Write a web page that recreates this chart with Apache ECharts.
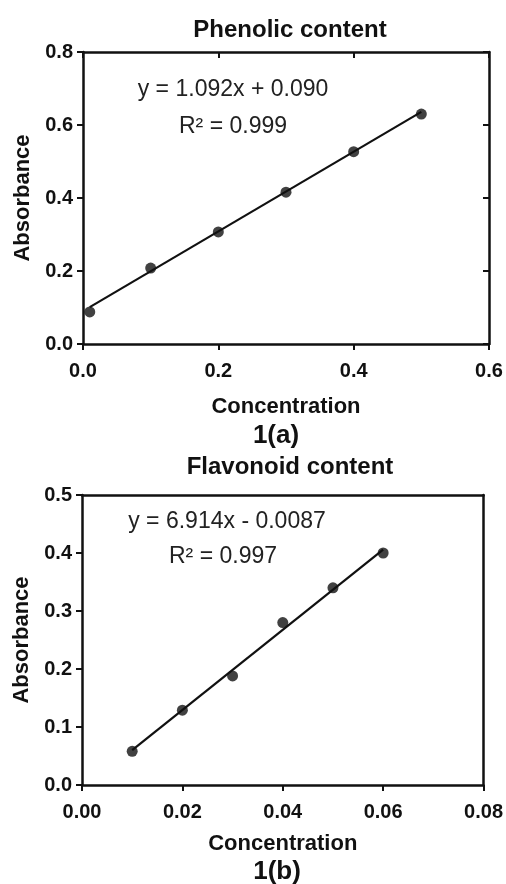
<!DOCTYPE html>
<html>
<head>
<meta charset="utf-8">
<title>Calibration curves</title>
<script src="https://cdn.jsdelivr.net/npm/echarts@6/dist/echarts.min.js"></script>
<style>
	html, body {
		margin: 0;
		padding: 0;
		background: #ffffff;
	}
	#main {
		width: 506px;
		height: 884px;
	}
</style>
</head>
<body>
<div id="main"></div>
<script>
	// 1(a) phenolic content
	var concA = [0.01, 0.1, 0.2, 0.3, 0.4, 0.5];
	var absA = [0.088, 0.208, 0.307, 0.416, 0.527, 0.630];
	var fitA = [[0.01, 0.101], [0.5, 0.636]];
	var ticksA = { xMax: 0.6, xStep: 0.2, yMax: 0.8, yStep: 0.2 };

	// 1(b) flavonoid content
	var concB = [0.01, 0.02, 0.03, 0.04, 0.05, 0.06];
	var absB = [0.058, 0.129, 0.188, 0.280, 0.340, 0.400];
	var fitB = [[0.01, 0.060], [0.06, 0.406]];
	var ticksB = { xMax: 0.08, xStep: 0.02, yMax: 0.5, yStep: 0.1 };

	var font = "'Liberation Sans', Arial, Helvetica, sans-serif";

	function pairs(xs, ys) {
		var out = [];
		for (var i = 0; i < xs.length; i++) {
			out.push([xs[i], ys[i]]);
		}
		return out;
	}

	// main axis (labels + outward ticks)
	function mainAxis(grid, pos, max, step, digits, name, gap) {
		return {
			gridIndex: grid,
			type: 'value',
			position: pos,
			min: 0,
			max: max,
			interval: step,
			name: name,
			nameLocation: 'middle',
			nameGap: gap,
			nameTextStyle: { fontFamily: font, fontSize: 22, fontWeight: 'bold', color: '#111' },
			axisLine: { show: true, onZero: false, lineStyle: { color: '#111', width: 2.5 } },
			axisTick: { show: true, inside: false, length: 6, lineStyle: { color: '#111', width: 2 } },
			axisLabel: {
				fontFamily: font, fontSize: 20, fontWeight: 'bold', color: '#111',
				margin: pos === 'left' ? 10 : 17,
				formatter: function (v) { return v.toFixed(digits); }
			},
			splitLine: { show: false }
		};
	}

	// box side (no labels, optional inward ticks)
	function boxAxis(grid, pos, max, step, ticks) {
		return {
			gridIndex: grid,
			type: 'value',
			position: pos,
			min: 0,
			max: max,
			interval: step,
			axisLine: { show: true, onZero: false, lineStyle: { color: '#111', width: 2.5 } },
			axisTick: { show: ticks, inside: true, length: 6, lineStyle: { color: '#111', width: 2 } },
			axisLabel: { show: false },
			splitLine: { show: false }
		};
	}

	var myChart = echarts.init(document.getElementById('main'), null, { renderer: 'canvas' });

	myChart.setOption({
		backgroundColor: '#ffffff',
		animation: false,
		title: [
			{ text: 'Phenolic content', left: 285, top: 13, textAlign: 'center',
				textStyle: { fontFamily: font, fontSize: 24, fontWeight: 'bold', color: '#111' } },
			{ text: 'Flavonoid content', left: 285, top: 450, textAlign: 'center',
				textStyle: { fontFamily: font, fontSize: 24, fontWeight: 'bold', color: '#111' } }
		],
		grid: [
			{ left: 83, top: 52, width: 406, height: 292 },
			{ left: 82, top: 495, width: 403, height: 290 }
		],
		xAxis: [
			mainAxis(0, 'bottom', ticksA.xMax, ticksA.xStep, 1, 'Concentration', 52),
			boxAxis(0, 'top', ticksA.xMax, ticksA.xStep, true),
			mainAxis(1, 'bottom', ticksB.xMax, ticksB.xStep, 2, 'Concentration', 48),
			boxAxis(1, 'top', ticksB.xMax, ticksB.xStep, false)
		],
		yAxis: [
			mainAxis(0, 'left', ticksA.yMax, ticksA.yStep, 1, 'Absorbance', 44),
			boxAxis(0, 'right', ticksA.yMax, ticksA.yStep, true),
			mainAxis(1, 'left', ticksB.yMax, ticksB.yStep, 1, 'Absorbance', 43),
			boxAxis(1, 'right', ticksB.yMax, ticksB.yStep, false)
		],
		series: [
			{
				name: 'fit a', type: 'line', xAxisIndex: 0, yAxisIndex: 0,
				data: fitA, showSymbol: false, silent: true,
				lineStyle: { color: '#111', width: 2.2 }
			},
			{
				name: 'phenolic', type: 'scatter', xAxisIndex: 0, yAxisIndex: 0,
				data: pairs(concA, absA), symbol: 'circle', symbolSize: 11,
				itemStyle: { color: '#111' }
			},
			{
				name: 'fit b', type: 'line', xAxisIndex: 2, yAxisIndex: 2,
				data: fitB, showSymbol: false, silent: true,
				lineStyle: { color: '#111', width: 2.2 }
			},
			{
				name: 'flavonoid', type: 'scatter', xAxisIndex: 2, yAxisIndex: 2,
				data: pairs(concB, absB), symbol: 'circle', symbolSize: 11,
				itemStyle: { color: '#111' }
			}
		],
		graphic: [
			// regression text, panel a
			{ type: 'text', x: 233, y: 90, style: { text: 'y = 1.092x + 0.090', align: 'center', verticalAlign: 'middle', font: '23px ' + font, fill: '#222' } },
			{ type: 'text', x: 233, y: 127, style: { text: 'R² = 0.999', align: 'center', verticalAlign: 'middle', font: '23px ' + font, fill: '#222' } },
			{ type: 'text', x: 276, y: 436, style: { text: '1(a)', align: 'center', verticalAlign: 'middle', font: 'bold 26px ' + font, fill: '#111' } },
			// regression text, panel b
			{ type: 'text', x: 227, y: 522, style: { text: 'y = 6.914x - 0.0087', align: 'center', verticalAlign: 'middle', font: '23px ' + font, fill: '#222' } },
			{ type: 'text', x: 223, y: 557, style: { text: 'R² = 0.997', align: 'center', verticalAlign: 'middle', font: '23px ' + font, fill: '#222' } },
			{ type: 'text', x: 277, y: 872, style: { text: '1(b)', align: 'center', verticalAlign: 'middle', font: 'bold 26px ' + font, fill: '#111' } }
		]
	});
</script>
</body>
</html>
